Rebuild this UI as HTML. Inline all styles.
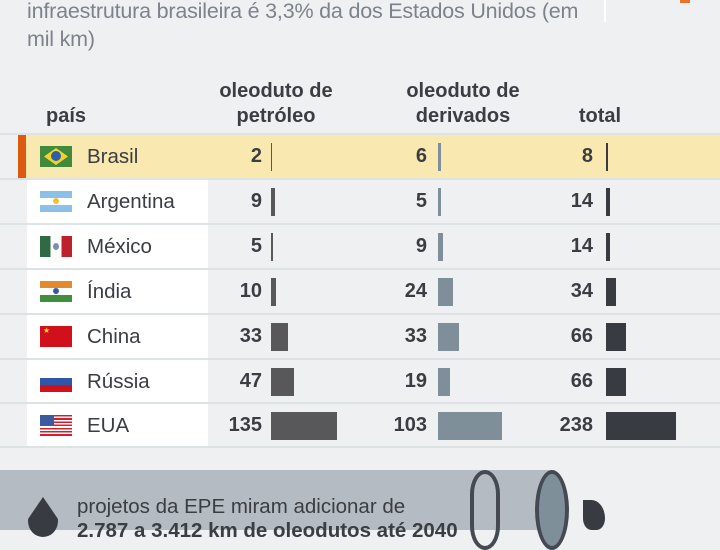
<!DOCTYPE html>
<html><head><meta charset="utf-8"><style>
*{margin:0;padding:0;box-sizing:border-box}
body{width:720px;height:530px;overflow:hidden;background:#eff0f2;font-family:"Liberation Sans",sans-serif;position:relative}
.a{position:absolute}
.t{color:#7d838b;font-size:21.5px;left:27px;line-height:28px;letter-spacing:-0.2px;white-space:nowrap}
.h{font-weight:bold;color:#3a3d42;font-size:20px;line-height:25px;text-align:center;white-space:nowrap}
.row{position:absolute;left:0;width:720px;height:44px}
.line{position:absolute;left:0;width:720px;height:2px;background:#dde2e5}
.name{position:absolute;left:87px;font-size:20.5px;color:#3a3d42;top:10px}
.num{position:absolute;font-weight:bold;font-size:20px;color:#3a3d42;text-align:right;width:60px;top:10px}
.bar{position:absolute;top:8px;height:28px}
.c1{background:#58585a}.c2{background:#7f8f99}.c3{background:#383b42}
.flag{position:absolute;left:40px;top:11px;width:32px;height:21px;overflow:hidden}
</style></head><body>
<div class="a t" style="top:-3px">infraestrutura brasileira é 3,3% da dos Estados Unidos (em</div>
<div class="a t" style="top:25px">mil km)</div>
<div class="a" style="left:604px;top:0;width:2px;height:22px;background:#fff"></div>
<div class="a" style="left:680px;top:0;width:10px;height:3px;background:#e8742a"></div>

<div class="a h" style="left:46px;top:104px;text-align:left">país</div>
<div class="a h" style="left:206px;top:79px;width:140px">oleoduto de<br>petróleo</div>
<div class="a h" style="left:393px;top:79px;width:140px">oleoduto de<br>derivados</div>
<div class="a h" style="left:560px;top:104px;width:80px">total</div>

<div class="line" style="top:133px"></div>
<div class="a" style="left:27px;top:179px;width:181px;height:267px;background:#fff"></div>

<div class="row" style="top:135px">
 <div class="a" style="left:18px;top:0;width:702px;height:43px;background:#f9e8b0"></div>
 <div class="a" style="left:18px;top:0;width:8px;height:43px;background:#dd5a10"></div>
 <div class="flag" style="background:#3f8a3c"><div class="a" style="left:4px;top:2px;width:24px;height:17px;background:#f6d32a;clip-path:polygon(50% 0,100% 50%,50% 100%,0 50%)"></div><div class="a" style="left:11px;top:5px;width:10px;height:10px;border-radius:50%;background:#2e5ea8"></div></div>
 <div class="name">Brasil</div>
 <div class="num" style="left:202px">2</div><div class="bar c1" style="left:271px;width:1px"></div>
 <div class="num" style="left:367px">6</div><div class="bar c2" style="left:438px;width:3px"></div>
 <div class="num" style="left:533px">8</div><div class="bar c3" style="left:606px;width:2px"></div>
</div>
<div class="line" style="top:178px"></div>

<div class="row" style="top:180px">
 <div class="flag" style="background:linear-gradient(#8cc0e8 33%,#fff 33%,#fff 67%,#8cc0e8 67%)"><div class="a" style="left:13px;top:7px;width:6px;height:6px;border-radius:50%;background:#f3c030"></div></div>
 <div class="name">Argentina</div>
 <div class="num" style="left:202px">9</div><div class="bar c1" style="left:271px;width:4px"></div>
 <div class="num" style="left:367px">5</div><div class="bar c2" style="left:438px;width:3px"></div>
 <div class="num" style="left:533px">14</div><div class="bar c3" style="left:606px;width:4px"></div>
</div>
<div class="line" style="top:223px"></div>

<div class="row" style="top:225px">
 <div class="flag" style="background:linear-gradient(90deg,#2f6a45 33%,#fff 33%,#fff 67%,#c0202e 67%)"><div class="a" style="left:13px;top:7px;width:6px;height:7px;border-radius:50%;background:#7a8fb0"></div></div>
 <div class="name">México</div>
 <div class="num" style="left:202px">5</div><div class="bar c1" style="left:271px;width:2px"></div>
 <div class="num" style="left:367px">9</div><div class="bar c2" style="left:438px;width:5px"></div>
 <div class="num" style="left:533px">14</div><div class="bar c3" style="left:606px;width:4px"></div>
</div>
<div class="line" style="top:268px"></div>

<div class="row" style="top:270px">
 <div class="flag" style="background:linear-gradient(#e38a2b 33%,#fff 33%,#fff 67%,#3f8f3d 67%)"><div class="a" style="left:13px;top:7px;width:6px;height:6px;border-radius:50%;background:#3a5aa0"></div></div>
 <div class="name">Índia</div>
 <div class="num" style="left:202px">10</div><div class="bar c1" style="left:271px;width:5px"></div>
 <div class="num" style="left:367px">24</div><div class="bar c2" style="left:438px;width:15px"></div>
 <div class="num" style="left:533px">34</div><div class="bar c3" style="left:606px;width:10px"></div>
</div>
<div class="line" style="top:313px"></div>

<div class="row" style="top:315px">
 <div class="flag" style="background:#d0101a;color:#f6d32a;font-size:8px;line-height:9px;padding-left:3px">★</div>
 <div class="name">China</div>
 <div class="num" style="left:202px">33</div><div class="bar c1" style="left:271px;width:17px"></div>
 <div class="num" style="left:367px">33</div><div class="bar c2" style="left:438px;width:21px"></div>
 <div class="num" style="left:533px">66</div><div class="bar c3" style="left:606px;width:20px"></div>
</div>
<div class="line" style="top:358px"></div>

<div class="row" style="top:360px">
 <div class="flag" style="background:linear-gradient(#fff 33%,#2f56a8 33%,#2f56a8 67%,#d0101a 67%)"></div>
 <div class="name">Rússia</div>
 <div class="num" style="left:202px">47</div><div class="bar c1" style="left:271px;width:23px"></div>
 <div class="num" style="left:367px">19</div><div class="bar c2" style="left:438px;width:12px"></div>
 <div class="num" style="left:533px">66</div><div class="bar c3" style="left:606px;width:20px"></div>
</div>
<div class="line" style="top:402px"></div>

<div class="row" style="top:404px">
 <div class="flag" style="background:repeating-linear-gradient(#d0202e 0 1.6px,#fff 1.6px 3.2px)"><div class="a" style="left:0;top:0;width:14px;height:11px;background:#3c5aa0"></div></div>
 <div class="name">EUA</div>
 <div class="num" style="left:202px">135</div><div class="bar c1" style="left:271px;width:66px"></div>
 <div class="num" style="left:367px">103</div><div class="bar c2" style="left:438px;width:64px"></div>
 <div class="num" style="left:533px">238</div><div class="bar c3" style="left:606px;width:70px"></div>
</div>
<div class="line" style="top:446px"></div>

<div class="a" style="left:0;top:470px;width:555px;height:60px;background:#b4bbc2"></div>
<div class="a" style="left:470px;top:470px;width:30px;height:80px;border:4px solid #454a52;border-radius:50%/30%"></div>
<div class="a" style="left:535px;top:470px;width:34px;height:80px;border:4px solid #454a52;border-radius:50%;background:#7f8f99"></div>
<div class="a" style="left:28px;top:497px;width:30px;height:40px;background:#383b42;border-radius:50% 50% 50% 50%/60% 60% 40% 40%;clip-path:polygon(50% 0,100% 55%,100% 100%,0 100%,0 55%)"></div>
<div class="a" style="left:583px;top:500px;width:22px;height:30px;background:#383b42;border-radius:0 80% 50% 50%"></div>
<div class="a" style="left:77px;top:495px;font-size:20.5px;color:#3a3d42;white-space:nowrap">projetos da EPE miram adicionar de</div>
<div class="a" style="left:77px;top:519px;font-size:20.5px;color:#3a3d42;font-weight:bold;white-space:nowrap">2.787 a 3.412 km de oleodutos até 2040</div>
</body></html>
